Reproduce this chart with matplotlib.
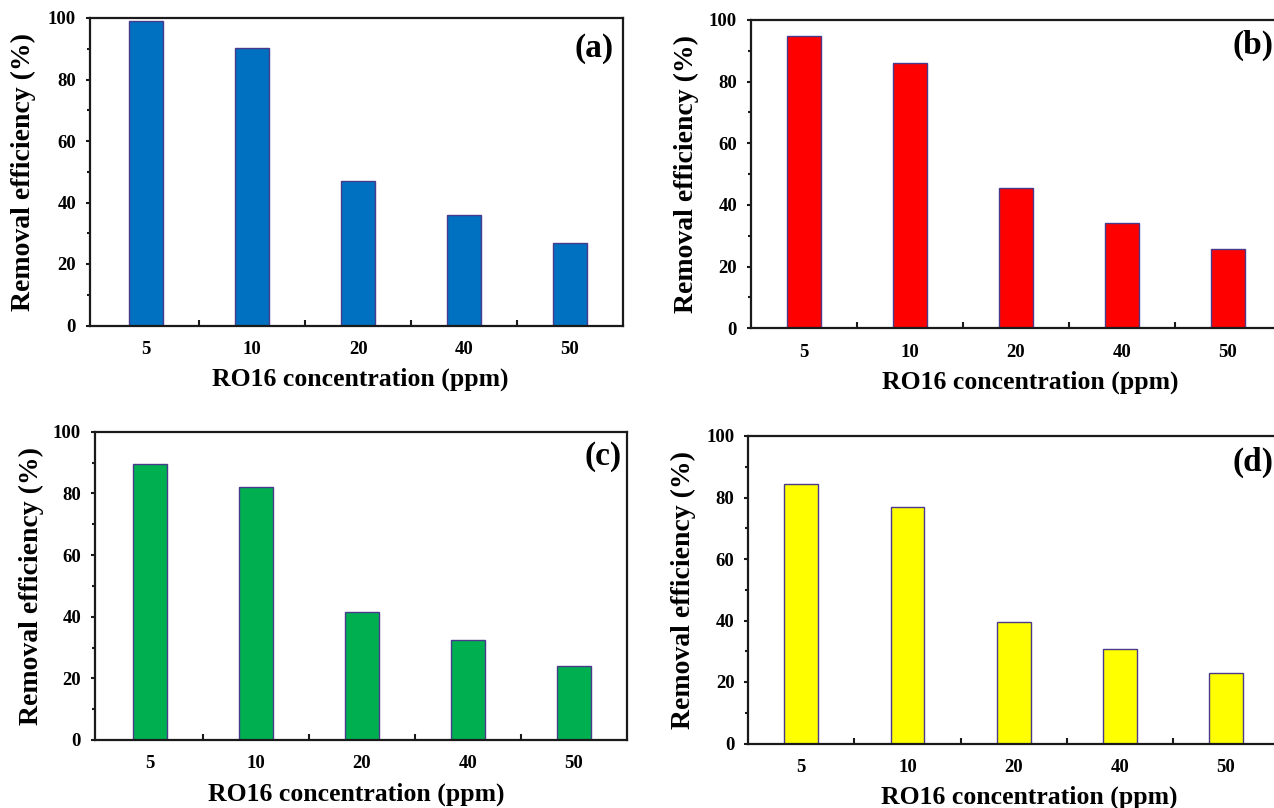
import matplotlib

matplotlib.use("Agg")
import matplotlib.pyplot as plt
import numpy as np
from matplotlib.ticker import AutoMinorLocator

plt.rcParams["font.family"] = ["Liberation Serif", "DejaVu Serif"]
plt.rcParams["font.weight"] = "bold"

# RO16 removal efficiency (%) at each initial dye concentration
concentrations = ["5", "10", "20", "40", "50"]
removal_a = [99.1, 90.4, 47.0, 35.9, 26.7]
removal_b = [94.7, 86.2, 45.4, 34.3, 25.6]
removal_c = [89.4, 82.2, 41.4, 32.3, 23.9]
removal_d = [84.4, 76.8, 39.4, 30.6, 22.8]
panel_tags = ["(a)", "(b)", "(c)", "(d)"]
bar_colors = ["#0070C0", "#FF0000", "#00B050", "#FFFF00"]

W, H = 1274, 808
EDGE = "#4A3A8C"
SPINE = "#1a1a1a"

# axes boxes in pixels: left, top, right, bottom, and left x-limit
boxes = [
    (90, 18, 623, 325.5, -0.53),
    (751, 20, 1281, 328.3, -0.50),
    (95, 431.7, 626.7, 740, -0.52),
    (748.3, 436, 1279, 743.5, -0.50),
]
# y-label x centre, x-label centre x, tag right edge / centre y
ylabel_x = [23, 686, 31, 683]
xlabel_x = [360, 1030, 356, 1029]
tag_pos = [(614, 48), (1273, 45), (622, 457), (1273, 462)]


def fx(px):
    return px / W


def fy(py):
    return 1 - py / H


fig = plt.figure(figsize=(W / 100, H / 100), dpi=100)
series = [removal_a, removal_b, removal_c, removal_d]

for i, values in enumerate(series):
    left, top, right, bottom, x0 = boxes[i]
    ax = fig.add_axes([fx(left), fy(bottom), (right - left) / W, (bottom - top) / H])
    x = np.arange(len(concentrations))
    ax.bar(x, values, width=0.32, color=bar_colors[i], edgecolor=EDGE, linewidth=1.0)

    ax.set_xlim(x0, 4.5)
    ax.set_ylim(0, 100)
    ax.set_xticks(x)
    ax.set_xticklabels(concentrations)
    ax.set_xticks(np.arange(0.5, 4, 1.0), minor=True)
    ax.set_yticks(np.arange(0, 101, 20))
    ax.yaxis.set_minor_locator(AutoMinorLocator(2))

    ax.tick_params(axis="x", which="major", length=0, pad=11, labelsize=13.5)
    ax.tick_params(axis="x", which="minor", direction="in", length=4, width=1.5,
                   color=SPINE)
    ax.tick_params(axis="y", which="major", direction="out", length=3, width=1.5,
                   pad=7, labelsize=13.5, color=SPINE)
    ax.tick_params(axis="y", which="minor", direction="out", length=2.5, width=1.5,
                   color=SPINE)
    for lbl in ax.get_xticklabels() + ax.get_yticklabels():
        lbl.set_fontweight("bold")
    for sp in ax.spines.values():
        sp.set_linewidth(1.6)
        sp.set_color(SPINE)

    ymid = (top + bottom) / 2
    fig.text(fx(ylabel_x[i]), fy(ymid), "Removal efficiency (%)", rotation=90,
             ha="center", va="center", fontsize=20, fontweight="bold")
    fig.text(fx(xlabel_x[i]), fy(bottom + 54), "RO16 concentration (ppm)",
             ha="center", va="center", fontsize=18.5, fontweight="bold")
    tx, ty = tag_pos[i]
    fig.text(fx(tx), fy(ty), panel_tags[i], ha="right", va="center",
             fontsize=24, fontweight="bold")

fig.savefig("out.png", dpi=100)
